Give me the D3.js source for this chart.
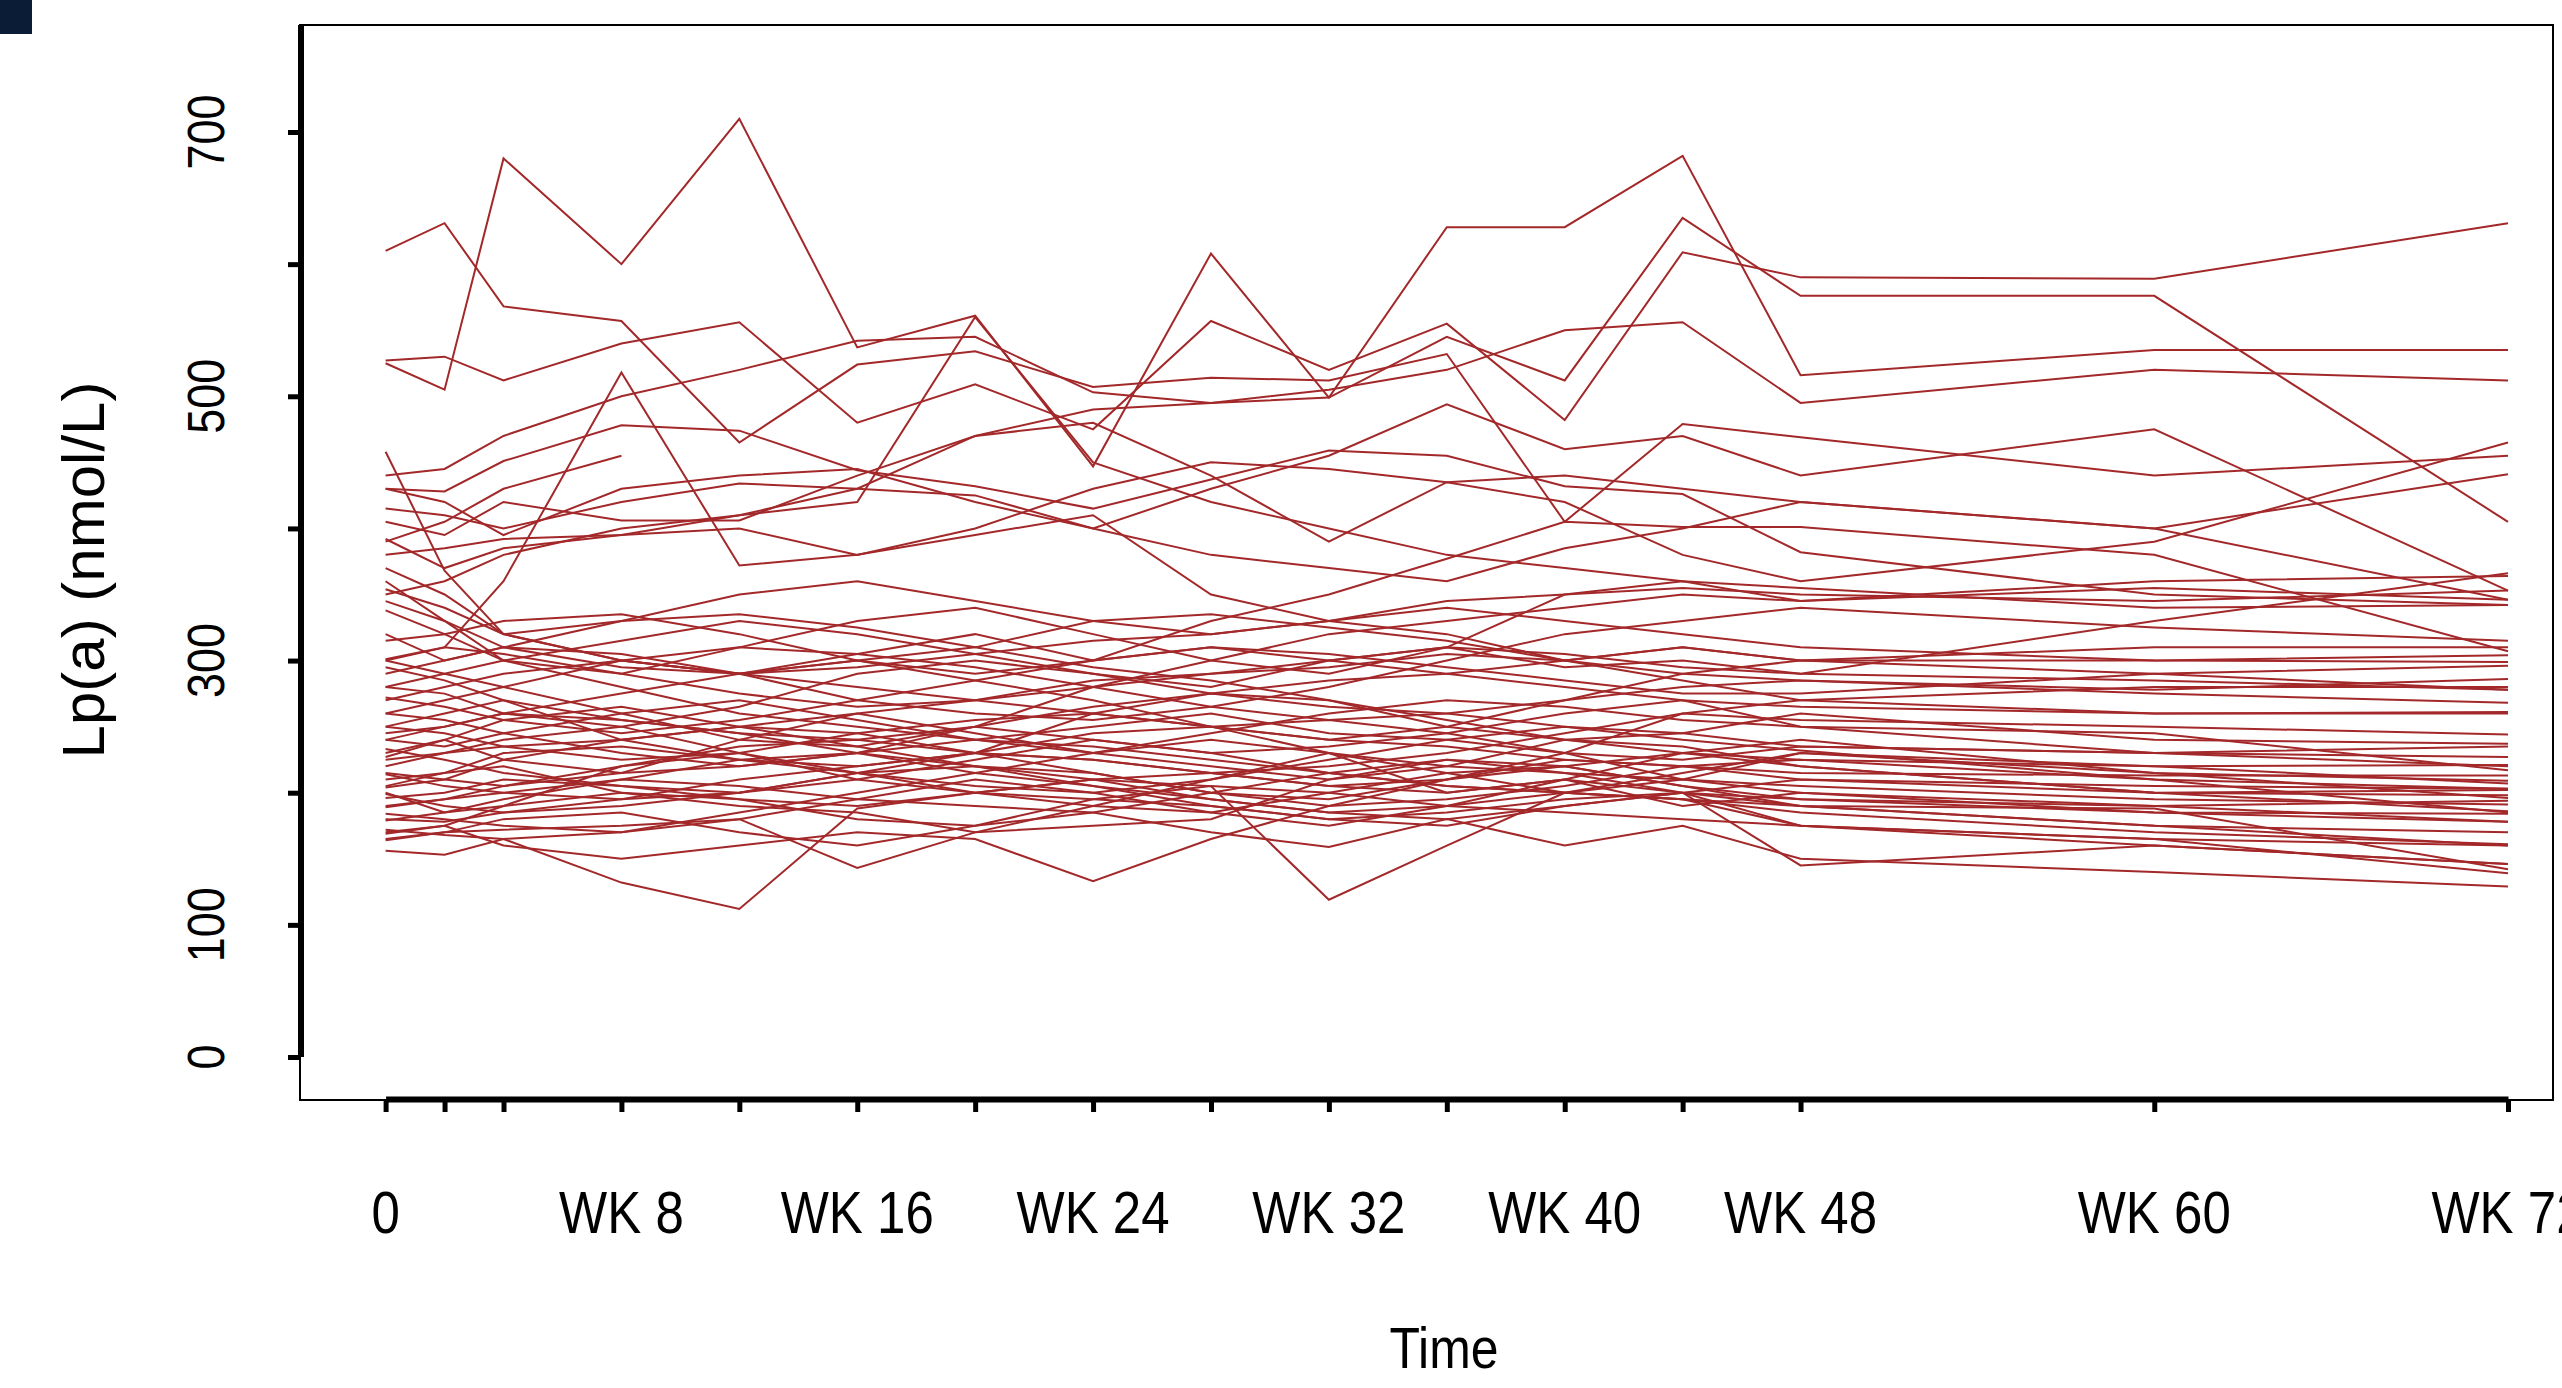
<!DOCTYPE html>
<html><head><meta charset="utf-8">
<script src="https://d3js.org/d3.v7.min.js"></script>
<style>html,body{margin:0;padding:0;background:#fff;overflow:hidden}</style>
</head><body>
<svg id="c" width="2562" height="1388"></svg>
<script>
// ---- data ----
const weeks = [0,2,4,8,12,16,20,24,28,32,36,40,44,48,60,72];
const xTickLabels = ["0","","","WK 8","","WK 16","","WK 24","","WK 32","","WK 40","","WK 48","WK 60","WK 72"];
const yTicks = [0,100,200,300,400,500,600,700];
const yTickLabels = ["0","100","","300","","500","","700"];

const s1  = [610,631,568,557,465,524,534,507,514,512,532,405,479,469,440,455];
const s2  = [525,505,680,600,710,537,561,447,608,499,628,628,682,516,535,535];
const s3  = [527,530,512,540,556,480,509,475,557,520,555,482,609,590,589,631];
const s4  = [440,445,470,500,520,542,545,503,495,499,545,512,635,576,576,405];
const s5  = [458,368,320,300,290,305,320,300,330,350,377,405,401,401,380,307];
const s6  = [430,428,451,478,474,444,432,415,437,459,455,432,426,382,350,342];
const s7  = [300,310,360,518,372,380,395,410,350,330,320,300,310,300,290,278];
const s8  = [390,405,430,455,null,null,null,null,null,null,null,null,null,null,null,null];
const s9  = [405,395,420,406,406,440,470,480,440,390,435,420,380,360,390,465];
const s10 = [415,410,400,420,434,430,425,400,380,370,360,385,400,420,400,441];
const s11 = [380,385,392,395,410,420,560,450,420,400,380,370,360,345,360,364];
const s12 = [430,420,395,430,440,445,420,400,430,455,494,460,470,440,475,353];
const s13 = [392,370,385,395,400,380,400,430,450,445,435,440,430,420,400,346];
const s14 = [350,360,380,400,410,430,470,490,495,505,520,550,556,495,520,512];

const p1  = [156,153,165,132,112,188,200,210,195,185,190,200,195,175,165,160];
const p2  = [165,170,172,175,180,143,170,190,210,230,200,210,190,200,185,178];
const p3  = [170,175,160,150,160,170,165,133,165,190,210,220,230,240,215,196];
const p4  = [180,178,185,195,200,215,220,210,205,119,160,200,210,230,220,207];
const p5  = [190,195,200,210,205,195,190,185,170,159,180,160,175,150,140,129];
const p6  = [200,185,190,220,235,240,230,225,215,205,210,230,260,255,250,244];
const p7  = [210,215,220,200,190,185,170,175,180,210,220,240,235,220,200,202];
const p8  = [220,230,240,250,230,210,200,195,190,180,175,190,200,145,160,146];
const p9  = [230,240,225,215,240,260,245,230,220,210,225,215,200,190,175,160];
const p10 = [240,235,245,260,270,255,240,250,260,245,240,230,225,235,230,227];
const p11 = [250,260,270,240,225,220,230,260,275,270,250,240,245,260,240,237];
const p12 = [260,255,245,230,220,230,250,240,230,235,245,260,270,265,260,261];
const p13 = [270,280,290,300,290,280,270,260,250,240,235,225,220,215,213,213];
const p14 = [280,275,260,250,265,290,300,290,280,300,310,295,300,290,285,278];
const p15 = [290,300,310,305,290,270,260,255,265,280,300,320,330,340,325,315];
const p16 = [300,290,280,260,240,235,250,280,300,320,330,340,350,345,355,346];
const p17 = [315,320,330,335,320,300,290,300,310,300,290,280,270,250,230,220];
const p18 = [338,320,300,290,310,330,340,320,300,290,310,350,360,355,340,342];
const p19 = [354,340,320,330,350,360,345,330,320,330,340,330,320,310,300,299];
const p20 = [360,330,300,280,260,250,240,230,245,260,270,265,255,250,245,217];
const p21 = [370,350,320,300,290,300,310,330,335,325,315,300,285,270,260,260];
const p22 = [245,250,260,275,290,300,285,270,250,230,220,215,210,205,195,191];
const p23 = [233,225,215,205,200,210,225,240,230,215,205,200,215,230,215,209];
const p24 = [227,240,255,265,250,235,220,215,200,195,210,225,220,210,200,198];
const p25 = [214,205,200,195,210,220,230,225,215,205,200,210,200,195,185,184];
const p26 = [204,210,225,240,250,245,230,215,200,190,195,205,220,225,210,203];
const p27 = [199,190,185,190,200,215,230,245,250,255,245,230,210,200,190,178];
const p28 = [196,200,210,205,195,190,200,210,215,220,230,245,260,270,280,280];
const p29 = [189,195,205,220,230,215,200,190,185,200,215,220,205,195,190,194];
const p30 = [184,180,175,170,180,195,210,200,185,175,190,210,230,225,220,221];
const p31 = [179,185,195,210,225,230,220,205,190,180,185,195,200,210,205,203];
const p32 = [172,168,165,170,185,200,215,230,240,230,215,200,195,185,170,161];
const p33 = [169,175,190,200,195,180,175,185,200,215,225,220,205,190,175,170];
const p34 = [164,170,180,185,170,160,175,195,205,200,190,185,180,175,160,146];
const p35 = [295,285,270,255,245,240,250,265,275,285,290,300,310,300,300,304];
const p36 = [272,265,255,245,255,270,285,300,310,305,295,285,275,275,290,296];
const p37 = [301,310,305,290,275,265,270,285,290,295,305,300,290,285,278,286];
const p38 = [260,270,280,300,310,305,295,280,265,255,260,270,280,285,275,268];
const p39 = [250,245,235,225,230,245,255,260,250,240,250,270,290,300,310,310];
const p40 = [320,300,310,330,335,325,310,295,285,270,255,240,230,220,200,186];
const p41 = [345,330,310,295,290,295,305,315,320,330,345,350,355,350,345,353];
const p42 = [280,290,300,315,330,320,305,290,275,265,260,250,240,232,210,185];
const p43 = [205,215,230,235,225,215,205,200,210,225,240,250,245,235,230,235];
const p44 = [215,210,205,215,220,230,240,235,225,215,205,200,195,190,188,142];
const p45 = [240,250,260,255,245,230,215,205,195,185,180,190,200,175,165,139];
const p46 = [225,230,235,240,250,260,270,280,290,300,310,305,295,290,330,366];

const series = [s1,s2,s3,s4,s5,s6,s7,s8,s9,s10,s11,s12,s13,s14,
  p1,p2,p3,p4,p5,p6,p7,p8,p9,p10,p11,p12,p13,p14,p15,p16,p17,p18,p19,p20,
  p21,p22,p23,p24,p25,p26,p27,p28,p29,p30,p31,p32,p33,p34,p35,p36,p37,p38,p39,p40,
  p41,p42,p43,p44,p45,p46];

// ---- layout ----
const svg = d3.select("#c");
const frame = {left:300, top:25, right:2553, bottom:1100};
const x = d3.scaleLinear().domain([0,72]).range([385.6, 2508]);
const y = d3.scaleLinear().domain([0,700]).range([1057, 132]);
const FONT = "'Liberation Sans', Arial, Helvetica, sans-serif";

svg.append("rect").attr("width",2562).attr("height",1388).attr("fill","#fff");
svg.append("rect").attr("x",0).attr("y",0).attr("width",32).attr("height",34).attr("fill","#0b1d36");

svg.append("rect").attr("x",frame.left).attr("y",frame.top)
  .attr("width",frame.right-frame.left).attr("height",frame.bottom-frame.top)
  .attr("fill","none").attr("stroke","#000").attr("stroke-width",2);

const line = d3.line().defined(d => d[1] != null).x(d => x(d[0])).y(d => y(d[1]));
svg.append("g").selectAll("path").data(series).join("path")
  .attr("d", s => line(weeks.map((w,i) => [w, s[i]])))
  .attr("fill","none").attr("stroke","#a3282a").attr("stroke-width",2)
  .attr("stroke-linejoin","miter");

const yAxis = d3.axisLeft(y).tickValues(yTicks).tickSize(13).tickSizeOuter(0).tickFormat("");
const gy = svg.append("g").attr("transform",`translate(${frame.left+1},0)`).call(yAxis);
gy.select(".domain").remove();
gy.selectAll(".tick line").attr("stroke","#000").attr("stroke-width",5);
svg.append("line").attr("x1",frame.left+1).attr("x2",frame.left+1)
  .attr("y1",y(0)).attr("y2",frame.top).attr("stroke","#000").attr("stroke-width",6);

const xAxis = d3.axisBottom(x).tickValues(weeks).tickSize(13).tickSizeOuter(0).tickFormat("");
const gx = svg.append("g").attr("transform",`translate(0,${frame.bottom-1})`).call(xAxis);
gx.select(".domain").attr("stroke","#000").attr("stroke-width",6);
gx.selectAll(".tick line").attr("stroke","#000").attr("stroke-width",5);

function squeeze(sel, f){
  sel.each(function(){
    const L = this.getComputedTextLength();
    if (L > 0) { d3.select(this).attr("textLength", L*f).attr("lengthAdjust","spacingAndGlyphs"); }
  });
}

const xl = svg.append("g").selectAll("text").data(weeks.map((w,i)=>({w, t:xTickLabels[i]})).filter(d=>d.t))
  .join("text").attr("x", d=>x(d.w)).attr("y",1233).attr("text-anchor","middle")
  .attr("font-family",FONT).attr("font-size",60).attr("fill","#000").text(d=>d.t);
squeeze(xl, 0.85);

const yl = svg.append("g").selectAll("text").data(yTicks.map((v,i)=>({v, t:yTickLabels[i]})).filter(d=>d.t))
  .join("text").attr("transform", d=>`translate(224,${y(d.v)}) rotate(-90)`)
  .attr("text-anchor","middle").attr("font-family",FONT).attr("font-size",51).attr("fill","#000").text(d=>d.t);
squeeze(yl, 0.88);

const xt = svg.append("text").attr("x",1444).attr("y",1368).attr("text-anchor","middle")
  .attr("font-family",FONT).attr("font-size",58).attr("fill","#000").text("Time");
squeeze(xt, 0.86);
svg.append("text").attr("transform","translate(104,570) rotate(-90)").attr("text-anchor","middle")
  .attr("font-family",FONT).attr("font-size",60).attr("fill","#000").text("Lp(a) (nmol/L)");
</script>
</body></html>
